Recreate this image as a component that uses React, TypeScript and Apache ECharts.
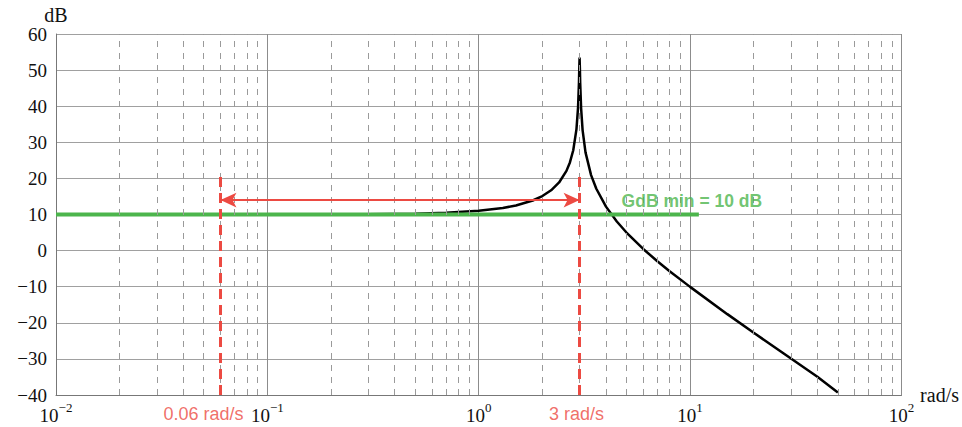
import React, { useEffect, useRef } from "react";
import * as echarts from "echarts";

// Frequencies (rad/s) and gain (dB)
const wVals = [0.01, 0.1, 0.3, 0.5, 0.7, 1, 1.3, 1.5, 1.8, 2, 2.2, 2.4, 2.6, 2.7, 2.8, 2.9, 2.95, 2.98, 2.99, 3, 3.01, 3.02, 3.05, 3.1, 3.2, 3.4, 3.6, 4, 4.5, 5, 6, 7, 8, 10, 15, 20, 30, 40, 50];
const dBVals = [10, 10.01, 10.09, 10.24, 10.49, 11.02, 11.81, 12.5, 13.88, 15.11, 16.7, 18.87, 22.08, 24.42, 27.8, 33.66, 39.61, 46.6, 50.5, 53.5, 50.5, 46.5, 39.47, 33.38, 27.22, 20.92, 17.13, 12.18, 8.06, 5.0, 0.46, -2.96, -5.72, -10.05, -17.6, -22.76, -29.91, -34.95, -39.3];

// Minimum gain line
const gMinX = [0.01, 11];
const gMinY = [10, 10];
const gMinLabel = "GdB min = 10 dB";

// Bandwidth markers
const markerFreqs = [0.06, 3];
const markerLabels = ["0.06 rad/s", "3 rad/s"];
const markerTop = 21;
const arrowLevel = 14;

// Minor logarithmic grid positions
const minorTicks = [
  0.02, 0.03, 0.04, 0.05, 0.06, 0.07, 0.08, 0.09,
  0.2, 0.3, 0.4, 0.5, 0.6, 0.7, 0.8, 0.9,
  2, 3, 4, 5, 6, 7, 8, 9,
  20, 30, 40, 50, 60, 70, 80, 90,
];

const xMin = 0.01;
const xMax = 100;
const yMin = -40;
const yMax = 60;
const yStep = 10;

const SERIF = "'Liberation Serif', 'DejaVu Serif', serif";
const SANS = "'Liberation Sans', Arial, Helvetica, sans-serif";
const RED = "#ec4a42";
const GREEN = "#4cb54c";

export default function App() {
  const ref = useRef<HTMLDivElement>(null);

  useEffect(() => {
    if (!ref.current) return;
    const chart = echarts.init(ref.current, undefined, { renderer: "svg" });

    const curve = wVals.map((w, i) => [w, dBVals[i]]);
    const gmin = gMinX.map((x, i) => [x, gMinY[i]]);

    const option: any = {
      animation: false,
      backgroundColor: "#ffffff",
      grid: { left: 56, right: 60, top: 34, bottom: 32, containLabel: false },
      xAxis: {
        type: "log",
        logBase: 10,
        min: xMin,
        max: xMax,
        name: "rad/s",
        nameLocation: "end",
        nameGap: 8,
        nameTextStyle: { fontFamily: SERIF, fontSize: 20, color: "#111", verticalAlign: "middle" },
        axisLine: { show: true, onZero: false, lineStyle: { color: "#777", width: 1 } },
        axisTick: { show: false },
        splitLine: { show: true, lineStyle: { color: "#8c8c8c", width: 1 } },
        axisLabel: {
          margin: 6,
          formatter: (v: number) => {
            const e = Math.round(Math.log10(v));
            return "{b|10}{s|" + (e < 0 ? "\u2212" + -e : String(e)) + "}";
          },
          rich: {
            b: { fontFamily: SERIF, fontSize: 19, color: "#111", verticalAlign: "bottom", lineHeight: 24 },
            s: { fontFamily: SERIF, fontSize: 13, color: "#111", verticalAlign: "top", lineHeight: 24, padding: [0, 0, 10, 0] },
          },
        },
      },
      yAxis: {
        type: "value",
        min: yMin,
        max: yMax,
        interval: yStep,
        name: "dB",
        nameLocation: "end",
        nameGap: 4,
        nameTextStyle: { fontFamily: SERIF, fontSize: 20, color: "#111" },
        axisLine: { show: true, lineStyle: { color: "#777", width: 1 } },
        axisTick: { show: false },
        splitLine: { show: true, lineStyle: { color: "#a0a0a0", width: 1 } },
        axisLabel: {
          margin: 9,
          fontFamily: SERIF,
          fontSize: 19,
          color: "#111",
          formatter: (v: number) => String(v).replace("-", "\u2212"),
        },
      },
      series: [
        {
          type: "line",
          name: "minorGrid",
          data: [],
          silent: true,
          z: 1,
          markLine: {
            silent: true,
            symbol: ["none", "none"],
            label: { show: false },
            lineStyle: { color: "#9a9a9a", width: 1, type: [6, 6] },
            emphasis: { disabled: true },
            data: minorTicks.map((v) => ({ xAxis: v })),
          },
        },
        {
          type: "line",
          name: "gain",
          data: curve,
          showSymbol: false,
          symbol: "none",
          smooth: false,
          lineStyle: { color: "#000", width: 2.5 },
          z: 3,
        },
        {
          type: "line",
          name: "gmin",
          data: gmin,
          showSymbol: false,
          symbol: "none",
          lineStyle: { color: GREEN, width: 4 },
          z: 4,
        },
        {
          type: "line",
          name: "markers",
          data: [],
          z: 5,
          markLine: {
            silent: true,
            animation: false,
            label: { show: false },
            emphasis: { disabled: true },
            data: [
              ...markerFreqs.map((f) => [
                { coord: [f, yMin], symbol: "none", lineStyle: { color: RED, width: 3, type: [10, 6] } },
                { coord: [f, markerTop], symbol: "none" },
              ]),
              [
                { coord: [markerFreqs[0], arrowLevel], symbol: "arrow", symbolSize: [11, 16], lineStyle: { color: RED, width: 2, type: "solid" } },
                { coord: [markerFreqs[1], arrowLevel], symbol: "arrow", symbolSize: [11, 16] },
              ],
            ],
          },
        },
        {
          type: "scatter",
          name: "markerLabels",
          symbolSize: 0,
          clip: false,
          silent: true,
          z: 6,
          data: markerFreqs.map((f, i) => ({
            value: [f, yMin],
            label: {
              show: true,
              position: "bottom",
              distance: 10,
              offset: i === 0 ? [-17, 0] : [-3, 0],
              formatter: markerLabels[i],
              fontFamily: SANS,
              fontSize: 18,
              color: RED,
            },
          })),
        },
        {
          type: "scatter",
          name: "gminLabel",
          symbolSize: 0,
          clip: false,
          silent: true,
          z: 6,
          data: [
            {
              value: [gMinX[1], gMinY[1]],
              label: {
                show: true,
                position: "top",
                distance: 5,
                offset: [-7, 0],
                formatter: gMinLabel,
                fontFamily: SANS,
                fontWeight: "bold",
                fontSize: 17.5,
                color: GREEN,
              },
            },
          ],
        },
      ],
    };

    chart.setOption(option);
    return () => chart.dispose();
  }, []);

  return (
    <div
      ref={ref}
      style={{ position: "fixed", left: 0, top: 0, width: 962, height: 427, background: "#fff" }}
    />
  );
}
